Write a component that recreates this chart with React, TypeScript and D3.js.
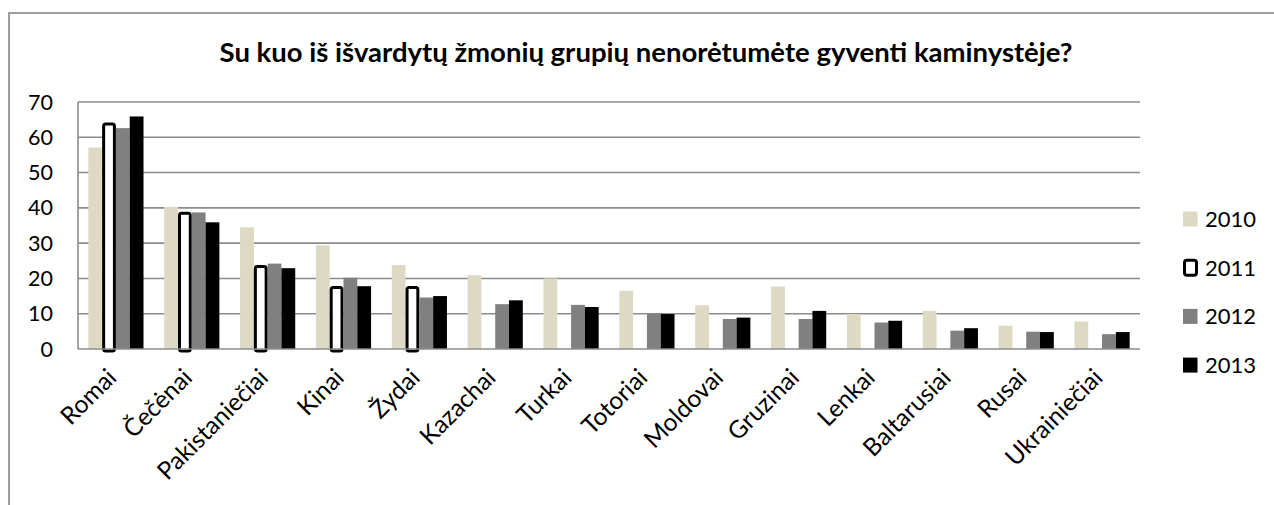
import React from "react";
import * as d3 from "d3";

const categories = ["Romai", "Čečėnai", "Pakistaniečiai", "Kinai", "Žydai", "Kazachai", "Turkai", "Totoriai", "Moldovai", "Gruzinai", "Lenkai", "Baltarusiai", "Rusai", "Ukrainiečiai"];
const seriesNames = ["2010", "2011", "2012", "2013"];
const v2010 = [57.1, 40.3, 34.5, 29.4, 23.8, 20.9, 20.0, 16.5, 12.4, 17.7, 9.9, 10.8, 6.6, 7.8];
const v2011: (number | null)[] = [63.8, 38.5, 23.4, 17.4, 17.4, null, null, null, null, null, null, null, null, null];
const v2012 = [62.6, 38.7, 24.2, 20.2, 14.6, 12.7, 12.5, 10.0, 8.5, 8.5, 7.5, 5.2, 4.9, 4.2];
const v2013 = [65.9, 35.9, 22.9, 17.8, 15.0, 13.8, 11.9, 9.9, 8.9, 10.8, 8.0, 5.9, 4.8, 4.8];
const yTicks = [0, 10, 20, 30, 40, 50, 60, 70];
const title = "Su kuo iš išvardytų žmonių grupių nenorėtumėte gyventi kaminystėje?";

const seriesValues = [v2010, v2011, v2012, v2013];
const colors = ["#DDD9C3", "#FFFFFF", "#808080", "#000000"];

const FONT = "Lato, 'Open Sans', sans-serif";

export default function App() {
  const left = 78, right = 1140, top = 102, bottom = 349;
  const x0 = d3.scaleBand<string>().domain(categories).range([left, right]).padding(0);
  const bw = x0.bandwidth();
  const barW = bw / 5.5;
  const x1 = d3.scaleBand<string>().domain(seriesNames).range([barW * 0.75, bw - barW * 0.75]).padding(0);
  const y = d3.scaleLinear().domain([0, 70]).range([bottom, top]);

  return (
    <svg width={1274} height={505} style={{ position: "absolute", left: 0, top: 0, background: "#fff" }} fontFamily={FONT}>
      <rect x={0} y={0} width={1274} height={505} fill="#fff" />
      <rect x={9} y={13} width={1290} height={520} fill="none" stroke="#878787" strokeWidth={1.6} />
      <text x={646} y={62} textAnchor="middle" fontWeight="bold" fontSize={27.5} fill="#000">{title}</text>

      {yTicks.map((t) => (
        <g key={t}>
          {t > 0 && <line x1={left} x2={right} y1={y(t)} y2={y(t)} stroke="#8c8c8c" strokeWidth={1.6} />}
          <text x={53} y={y(t)} dy="0.35em" textAnchor="end" fontSize={21.5} fill="#000">{t}</text>
        </g>
      ))}

      {categories.map((c, i) => (
        <g key={c} transform={`translate(${x0(c)},0)`}>
          {seriesValues.map((vals, s) => {
            const v = vals[i];
            if (v == null) return null;
            const bx = x1(seriesNames[s])!;
            if (s === 1) {
              return (
                <rect key={s} x={bx + 1.5} y={y(v)} width={barW - 3} height={bottom - y(v) + 2}
                  rx={2} fill="#fff" stroke="#000" strokeWidth={3} />
              );
            }
            return <rect key={s} x={bx} y={y(v)} width={barW} height={bottom - y(v)} fill={colors[s]} />;
          })}
        </g>
      ))}

      <line x1={left} x2={right} y1={bottom} y2={bottom} stroke="#8c8c8c" strokeWidth={1.6} />
      <line x1={left} x2={left} y1={top} y2={bottom} stroke="#8c8c8c" strokeWidth={1.6} />

      {categories.map((c) => {
        const cx = x0(c)! + bw / 2 + 2;
        const cy = 379;
        return (
          <text key={c} x={cx} y={cy} textAnchor="end" fontSize={24.5} fill="#000"
            transform={`rotate(-45 ${cx} ${cy})`}>{c}</text>
        );
      })}

      {seriesNames.map((s, i) => {
        const cy = 219 + i * 48.7;
        return (
          <g key={s}>
            {i === 1 ? (
              <rect x={1184.5} y={cy - 7.5} width={12} height={15} rx={2.5} fill="#fff" stroke="#000" strokeWidth={3} />
            ) : (
              <rect x={1183} y={cy - 7.5} width={14.5} height={15} fill={colors[i]} />
            )}
            <text x={1205} y={cy} dy="0.36em" fontSize={22} fill="#000">{s}</text>
          </g>
        );
      })}
    </svg>
  );
}
